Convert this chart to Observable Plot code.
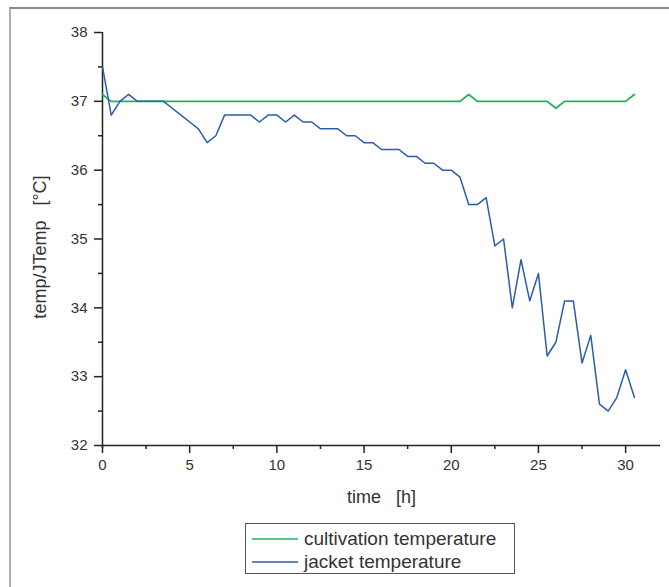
<!DOCTYPE html>
<html>
<head>
<meta charset="utf-8">
<script src="https://cdn.jsdelivr.net/npm/d3@7"></script>
<script src="https://cdn.jsdelivr.net/npm/@observablehq/plot@0.6"></script>
<style>
  html, body { margin: 0; padding: 0; background: #fff; }
  #wrap { position: relative; width: 669px; height: 587px; overflow: hidden; font-family: "Liberation Sans", Arial, sans-serif; }
  #frame { position: absolute; left: 9px; top: 7px; right: -5px; bottom: -5px; border-left: 2px solid #b0b0b0; border-top: 2px solid #8a8a8a; }
  #chart { position: absolute; left: 0; top: 0; }
  #legend { position: absolute; left: 245px; top: 523px; width: 270px; height: 51px; border: 1px solid #555; box-sizing: border-box; background: #fff; }
  .item { position: absolute; left: 6px; height: 22px; display: flex; align-items: center; font-size: 19px; color: #333; white-space: nowrap; }
  .item svg { margin-right: 6px; }
</style>
</head>
<body>
<div id="wrap">
  <div id="frame"></div>
  <div id="chart"></div>
  <div id="legend"></div>
</div>
<script>
const time = [0,0.5,1,1.5,2,2.5,3,3.5,4,4.5,5,5.5,6,6.5,7,7.5,8,8.5,9,9.5,10,10.5,11,11.5,12,12.5,13,13.5,14,14.5,15,15.5,16,16.5,17,17.5,18,18.5,19,19.5,20,20.5,21,21.5,22,22.5,23,23.5,24,24.5,25,25.5,26,26.5,27,27.5,28,28.5,29,29.5,30,30.5];
const cultivation = [37.1,37.0,37.0,37.0,37.0,37.0,37.0,37.0,37.0,37.0,37.0,37.0,37.0,37.0,37.0,37.0,37.0,37.0,37.0,37.0,37.0,37.0,37.0,37.0,37.0,37.0,37.0,37.0,37.0,37.0,37.0,37.0,37.0,37.0,37.0,37.0,37.0,37.0,37.0,37.0,37.0,37.0,37.1,37.0,37.0,37.0,37.0,37.0,37.0,37.0,37.0,37.0,36.9,37.0,37.0,37.0,37.0,37.0,37.0,37.0,37.0,37.1];
const jacket = [37.5,36.8,37.0,37.1,37.0,37.0,37.0,37.0,36.9,36.8,36.7,36.6,36.4,36.5,36.8,36.8,36.8,36.8,36.7,36.8,36.8,36.7,36.8,36.7,36.7,36.6,36.6,36.6,36.5,36.5,36.4,36.4,36.3,36.3,36.3,36.2,36.2,36.1,36.1,36.0,36.0,35.9,35.5,35.5,35.6,34.9,35.0,34.0,34.7,34.1,34.5,33.3,33.5,34.1,34.1,33.2,33.6,32.6,32.5,32.7,33.1,32.7];
const xTicks = [0,5,10,15,20,25,30];
const xMinor = [2.5,7.5,12.5,17.5,22.5,27.5];
const yTicks = [32,33,34,35,36,37,38];
const yMinor = [32.5,33.5,34.5,35.5,36.5,37.5];
const seriesNames = ["cultivation temperature", "jacket temperature"];
const seriesColors = ["#1db35c", "#2a5dab"];
const xLabel = "time\u00a0\u00a0\u00a0[h]";
const yLabel = "temp/JTemp\u00a0\u00a0\u00a0[°C]";

const cultData = time.map((t, i) => ({t, v: cultivation[i]}));
const jackData = time.map((t, i) => ({t, v: jacket[i]}));

const axisColor = "#222";
const fmt = d3.format("d");
const chart = Plot.plot({
  width: 669,
  height: 510,
  marginLeft: 102,
  marginRight: 9,
  marginTop: 32,
  marginBottom: 65,
  style: {fontFamily: "'Liberation Sans', Arial, sans-serif", fontSize: "15px", color: "#333", background: "transparent"},
  x: {domain: [0, 32]},
  y: {domain: [32, 38]},
  marks: [
    Plot.axisY({ticks: yMinor, tickSize: 4, tickFormat: () => "", label: null, stroke: axisColor, strokeWidth: 1.5}),
    Plot.axisY({ticks: yTicks, tickSize: 8, tickPadding: 7, tickFormat: fmt, fontSize: 15, label: null, stroke: axisColor, strokeWidth: 1.5, fill: "#333"}),
    Plot.axisX({ticks: xMinor, tickSize: 4, tickFormat: () => "", label: null, stroke: axisColor, strokeWidth: 1.5}),
    Plot.axisX({ticks: xTicks, tickSize: 8, tickPadding: 6, tickFormat: fmt, fontSize: 15, label: null, stroke: axisColor, strokeWidth: 1.5, fill: "#333"}),
    Plot.ruleY([32], {stroke: axisColor, strokeWidth: 1.5}),
    Plot.ruleX([0], {stroke: axisColor, strokeWidth: 1.5, insetBottom: -3}),
    Plot.line(cultData, {x: "t", y: "v", stroke: seriesColors[0], strokeWidth: 1.8}),
    Plot.line(jackData, {x: "t", y: "v", stroke: seriesColors[1], strokeWidth: 1.5}),
    Plot.text([xLabel], {frameAnchor: "bottom", dy: 52, fontSize: 18, fill: "#333", lineAnchor: "middle", textAnchor: "middle"}),
    Plot.text([yLabel], {frameAnchor: "left", dx: -62, dy: 8, rotate: -90, fontSize: 18, fill: "#333", lineAnchor: "middle", textAnchor: "middle"})
  ]
});
document.getElementById("chart").appendChild(chart);

const legend = document.getElementById("legend");
seriesNames.forEach((name, i) => {
  const item = document.createElement("div");
  item.className = "item";
  item.style.top = (4 + i * 23) + "px";
  item.innerHTML = `<svg width="46" height="4"><line x1="0" y1="2" x2="46" y2="2" stroke="${seriesColors[i]}" stroke-width="1.6"/></svg><span>${name}</span>`;
  legend.appendChild(item);
});
</script>
</body>
</html>
